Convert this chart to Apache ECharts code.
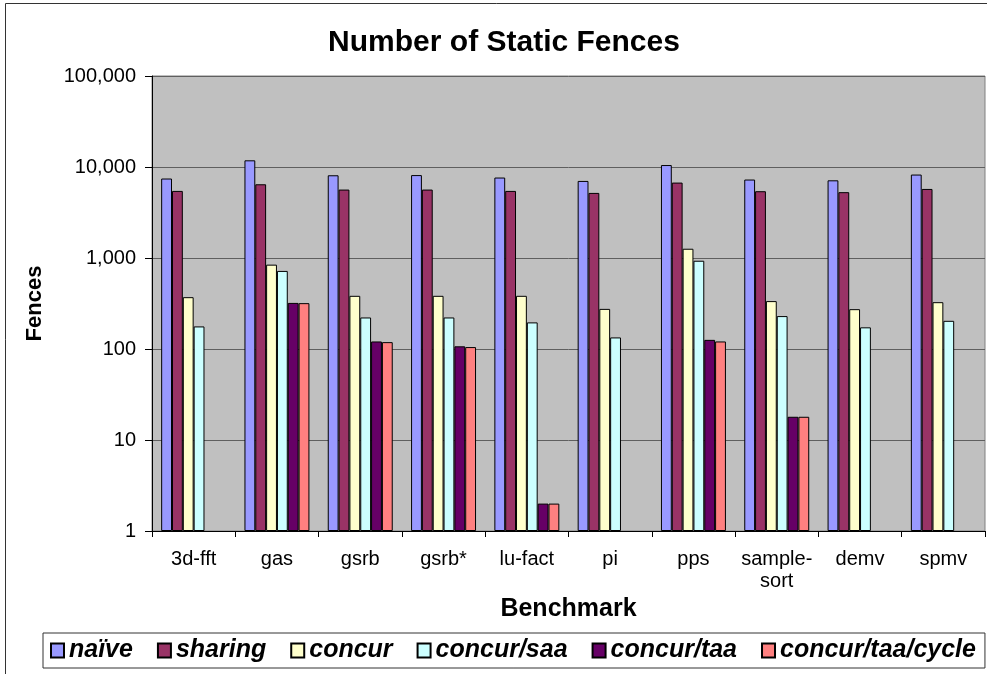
<!DOCTYPE html>
<html>
<head>
<meta charset="utf-8">
<title>Number of Static Fences</title>
<script src="https://cdn.jsdelivr.net/npm/echarts@6/dist/echarts.min.js"></script>
<style>
  html, body { margin: 0; padding: 0; background: #fff; }
  #fences { width: 987px; height: 674px; }
</style>
</head>
<body>
<div id="fences"></div>
<script>
const benchmarks = ['3d-fft', 'gas', 'gsrb', 'gsrb*', 'lu-fact', 'pi', 'pps', 'sample-\nsort', 'demv', 'spmv'];
const seriesNames = ['naïve', 'sharing', 'concur', 'concur/saa', 'concur/taa', 'concur/taa/cycle'];

const naive = [7470, 11840, 8110, 8150, 7660, 7030, 10510, 7280, 7140, 8260];
const sharing = [5460, 6460, 5650, 5650, 5460, 5190, 6740, 5420, 5290, 5740];
const concur = [371, 845, 384, 384, 384, 276, 1264, 336, 274, 327];
const concurSaa = [177, 721, 222, 222, 196, 134, 933, 230, 173, 204];
const concurTaa = [null, 321, 121, 107, 2, null, 126, 18, null, null];
const concurTaaCycle = [null, 319, 119, 105, 2, null, 121, 18, null, null];

const colors = ['#9999FF', '#993366', '#FFFFCC', '#CCFFFF', '#660066', '#FF8080'];
const font = "'Liberation Sans', Arial, sans-serif";

const chart = echarts.init(document.getElementById('fences'));
const values = [naive, sharing, concur, concurSaa, concurTaa, concurTaaCycle];

chart.setOption({
  animation: false,
  color: colors,
  title: {
    text: 'Number of Static Fences',
    left: 499,
    textAlign: 'center',
    top: 23,
    textStyle: { fontFamily: font, fontSize: 30, fontWeight: 'bold', color: '#000' }
  },
  graphic: [{
    type: 'rect',
    shape: { x: 5.5, y: 3.5, width: 1000, height: 700 },
    style: { fill: 'none', stroke: '#333', lineWidth: 1 },
    z: -1
  }],
  legend: {
    data: seriesNames,
    left: 43,
    top: 633,
    padding: [5, 9, 5, 7],
    itemWidth: 13,
    itemHeight: 14,
    itemGap: 24,
    icon: 'rect',
    borderColor: '#333',
    borderWidth: 1,
    textStyle: { fontFamily: font, fontSize: 25, fontWeight: 'bold', fontStyle: 'italic', color: '#000' }
  },
  grid: {
    left: 152,
    right: 2,
    top: 76,
    bottom: 143,
    show: true,
    backgroundColor: '#C0C0C0',
    borderColor: '#808080',
    borderWidth: 1
  },
  xAxis: {
    type: 'category',
    data: benchmarks,
    name: 'Benchmark',
    nameLocation: 'middle',
    nameGap: 48,
    nameTextStyle: { fontFamily: font, fontSize: 25, fontWeight: 'bold', color: '#000' },
    axisLine: { lineStyle: { color: '#000', width: 1 } },
    axisTick: { show: true, length: 6, lineStyle: { color: '#000' } },
    axisLabel: { fontFamily: font, fontSize: 20, color: '#000', margin: 17, lineHeight: 22, interval: 0 }
  },
  yAxis: {
    type: 'log',
    logBase: 10,
    min: 1,
    max: 100000,
    name: 'Fences',
    nameLocation: 'middle',
    nameGap: 106,
    nameTextStyle: { fontFamily: font, fontSize: 22, fontWeight: 'bold', color: '#000' },
    axisLine: { show: true, lineStyle: { color: '#000', width: 1 } },
    axisTick: { show: true, length: 7, lineStyle: { color: '#000' } },
    axisLabel: {
      fontFamily: font,
      fontSize: 20,
      color: '#000',
      margin: 16,
      formatter: v => Math.round(v).toLocaleString('en-US')
    },
    splitLine: { lineStyle: { color: '#5f5f5f', width: 1 } }
  },
  series: seriesNames.map((name, i) => ({
    name: name,
    type: 'bar',
    data: values[i],
    barGap: 0,
    barCategoryGap: '22%',
    itemStyle: { color: colors[i], borderColor: '#000', borderWidth: 1 }
  }))
});
</script>
</body>
</html>
